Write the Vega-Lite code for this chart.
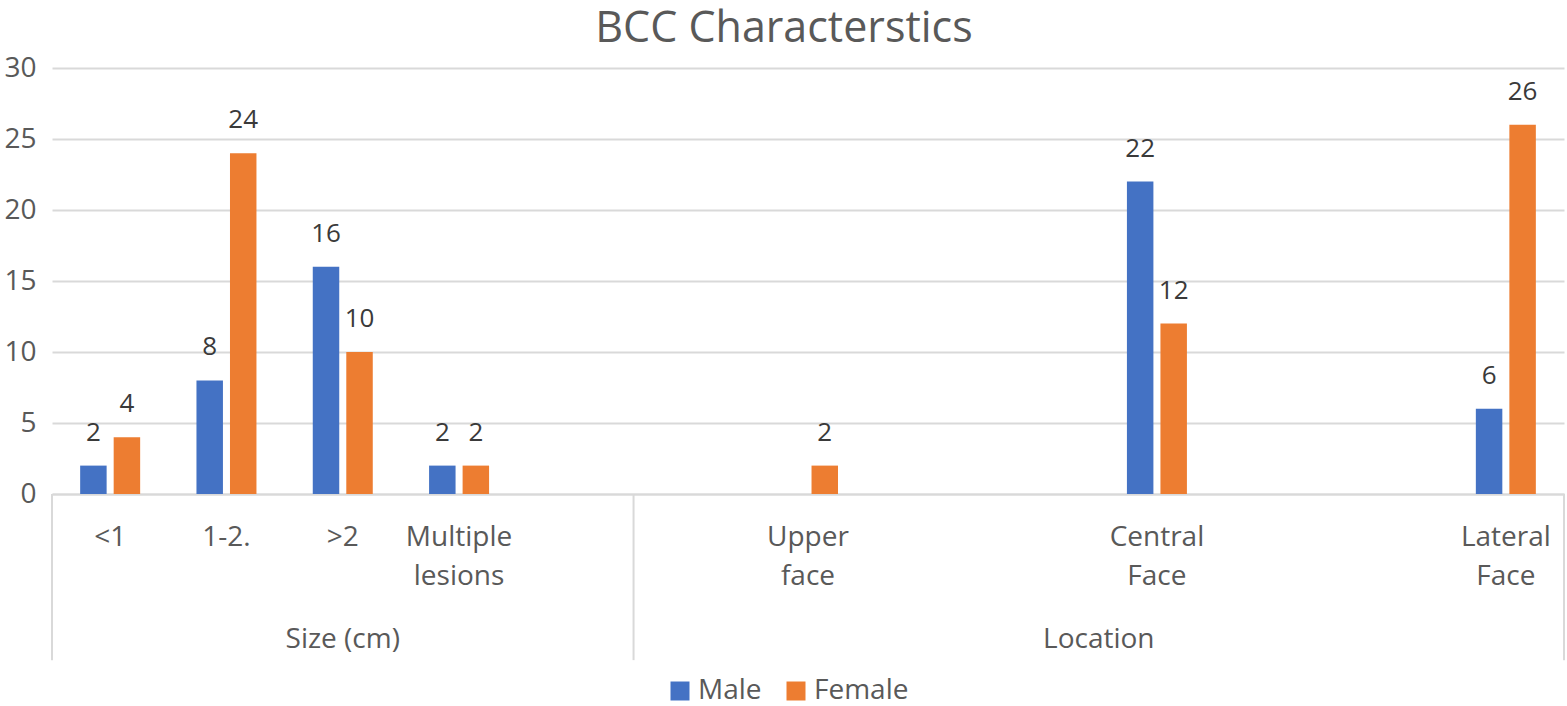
{
  "$schema": "https://vega.github.io/schema/vega-lite/v6.json",
  "width": 1512,
  "height": 426,
  "autosize": {"type": "none"},
  "padding": {"left": 52, "top": 68, "right": 3, "bottom": 212},
  "background": "white",
  "config": {"font": "Open Sans", "view": {"stroke": null}},
  "title": {"text": "BCC Characterstics", "fontSize": 43, "fontWeight": "normal", "color": "#595959", "font": "Open Sans", "anchor": "middle", "dx": -24, "dy": 44, "baseline": "alphabetic", "offset": 13},
  "data": {"values": [
    {"group": "Size (cm)", "category": "<1", "sex": "Male", "count": 2},
    {"group": "Size (cm)", "category": "<1", "sex": "Female", "count": 4},
    {"group": "Size (cm)", "category": "1-2.", "sex": "Male", "count": 8},
    {"group": "Size (cm)", "category": "1-2.", "sex": "Female", "count": 24},
    {"group": "Size (cm)", "category": ">2", "sex": "Male", "count": 16},
    {"group": "Size (cm)", "category": ">2", "sex": "Female", "count": 10},
    {"group": "Size (cm)", "category": "Multiple lesions", "sex": "Male", "count": 2},
    {"group": "Size (cm)", "category": "Multiple lesions", "sex": "Female", "count": 2},
    {"group": "Location", "category": "Upper face", "sex": "Female", "count": 2},
    {"group": "Location", "category": "Central Face", "sex": "Male", "count": 22},
    {"group": "Location", "category": "Central Face", "sex": "Female", "count": 12},
    {"group": "Location", "category": "Lateral Face", "sex": "Male", "count": 6},
    {"group": "Location", "category": "Lateral Face", "sex": "Female", "count": 26}
  ]},
  "layer": [
    {
      "mark": {"type": "bar"},
      "encoding": {
        "x": {
          "field": "category", "type": "nominal",
          "scale": {"domain": ["<1", "1-2.", ">2", "Multiple lesions", "gap1", "gap2", "Upper face", "gap3", "gap4", "Central Face", "gap5", "gap6", "Lateral Face"], "paddingInner": 0, "paddingOuter": 0},
          "axis": {"title": null, "labelExpr": "indexof(datum.label, 'gap') === 0 ? '' : split(datum.label, ' ')", "labelFontSize": 28, "labelFont": "Open Sans", "labelColor": "#595959", "labelLineHeight": 39, "labelPadding": 51, "labelBaseline": "alphabetic", "labelAngle": 0, "ticks": false, "domainColor": "#d9d9d9", "domainWidth": 2, "grid": false, "labelOverlap": false}
        },
        "xOffset": {"field": "sex", "type": "nominal", "scale": {"domain": ["Male", "Female"], "paddingInner": 0.21, "paddingOuter": 0.84}},
        "y": {
          "field": "count", "type": "quantitative",
          "scale": {"domain": [0, 30], "nice": false},
          "axis": {"title": null, "values": [0, 5, 10, 15, 20, 25, 30], "labelFontSize": 28, "labelFont": "Open Sans", "labelColor": "#595959", "labelPadding": 16, "ticks": false, "domain": false, "gridColor": "#d9d9d9", "gridWidth": 2}
        },
        "color": {
          "field": "sex", "type": "nominal",
          "scale": {"domain": ["Male", "Female"], "range": ["#4472C4", "#ED7D31"]},
          "legend": {"title": null, "orient": "none", "legendX": 614, "legendY": 609, "direction": "horizontal", "symbolType": "square", "symbolSize": 361, "symbolStrokeWidth": 0, "labelFontSize": 28, "labelFont": "Open Sans", "labelColor": "#595959", "labelOffset": 4, "columnPadding": 20, "padding": 0}
        }
      }
    },
    {
      "mark": {"type": "text", "baseline": "alphabetic", "dy": -25, "fontSize": 26, "color": "#3a3a3a", "font": "Open Sans"},
      "encoding": {
        "x": {"field": "category", "type": "nominal"},
        "xOffset": {"field": "sex", "type": "nominal"},
        "y": {"field": "count", "type": "quantitative"},
        "text": {"field": "count", "type": "quantitative"}
      }
    },
    {
      "data": {"values": [{"category": "<1"}, {"category": "gap2"}]},
      "mark": {"type": "rule", "color": "#d9d9d9", "strokeWidth": 2},
      "encoding": {
        "x": {"field": "category", "type": "nominal", "bandPosition": 0},
        "y": {"datum": 0},
        "y2": {"datum": -11.7}
      }
    },
    {
      "data": {"values": [{"category": "Lateral Face"}]},
      "mark": {"type": "rule", "color": "#d9d9d9", "strokeWidth": 2},
      "encoding": {
        "x": {"field": "category", "type": "nominal", "bandPosition": 1},
        "y": {"datum": 0},
        "y2": {"datum": -11.7}
      }
    },
    {
      "data": {"values": [{"category": ">2", "group": "Size (cm)"}]},
      "mark": {"type": "text", "baseline": "alphabetic", "dy": 2, "fontSize": 28, "color": "#595959", "font": "Open Sans"},
      "encoding": {
        "x": {"field": "category", "type": "nominal", "bandPosition": 0.5},
        "y": {"datum": -10.7},
        "text": {"field": "group", "type": "nominal"}
      }
    },
    {
      "data": {"values": [{"category": "Central Face", "group": "Location"}]},
      "mark": {"type": "text", "baseline": "alphabetic", "dy": 2, "fontSize": 28, "color": "#595959", "font": "Open Sans"},
      "encoding": {
        "x": {"field": "category", "type": "nominal", "bandPosition": 0},
        "y": {"datum": -10.7},
        "text": {"field": "group", "type": "nominal"}
      }
    }
  ]
}
